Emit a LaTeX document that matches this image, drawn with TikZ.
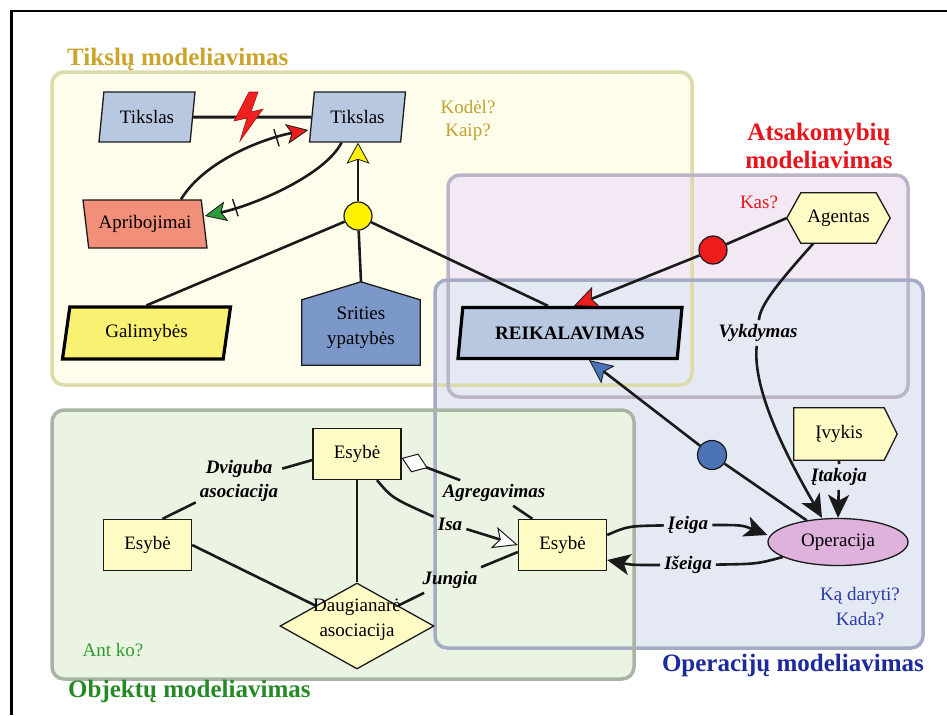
\documentclass[tikz,border=0pt]{standalone}
\usepackage{fontspec}
\setmainfont{Liberation Serif}
\usetikzlibrary{arrows.meta,shapes.geometric,decorations.markings,calc}

\definecolor{tikBg}{HTML}{FEFDEC}
\definecolor{tikLine}{HTML}{DCDBA9}
\definecolor{atsBg}{HTML}{F3E9F4}
\definecolor{atsLine}{HTML}{BCB5C7}
\definecolor{opBg}{HTML}{E5E9F4}
\definecolor{opLine}{HTML}{A4ABC4}
\definecolor{objBg}{HTML}{EBF4E3}
\definecolor{objLine}{HTML}{A9B4A4}
\definecolor{goalBlue}{HTML}{B9C8E1}
\definecolor{domBlue}{HTML}{7B98C9}
\definecolor{salmon}{HTML}{F18F78}
\definecolor{capYellow}{HTML}{F8F172}
\definecolor{paleYellow}{HTML}{FFFBC4}
\definecolor{opPink}{HTML}{DEB2DC}
\definecolor{dotYellow}{HTML}{FFF200}
\definecolor{dotRed}{HTML}{EE1C1C}
\definecolor{dotBlue}{HTML}{4B73B6}
\definecolor{tikTitle}{HTML}{C9A52B}
\definecolor{tikAsk}{HTML}{C2A233}
\definecolor{atsTitle}{HTML}{E8141B}
\definecolor{opTitle}{HTML}{1C2A9B}
\definecolor{opAsk}{HTML}{2B3BA5}
\definecolor{objTitle}{HTML}{258A25}
\definecolor{objAsk}{HTML}{2E9B2E}
\definecolor{edge}{HTML}{1A1A1A}
\definecolor{arrowGreen}{HTML}{2E9A3A}
\definecolor{boltRed}{HTML}{EE2020}

\pgfdeclarelayer{regions}
\pgfdeclarelayer{lines}
\pgfdeclarelayer{shapes}
\pgfsetlayers{regions,lines,shapes,main}

\newcommand{\txtfont}{\fontsize{19}{25}\selectfont}

\tikzset{
  headBlack/.tip={Stealth[length=23pt,width=21pt,inset=6pt]},
  headRed/.tip={Stealth[length=24pt,width=22pt,inset=5pt,fill=dotRed,line width=0.8pt]},
  headBlue/.tip={Stealth[length=24pt,width=22pt,inset=5pt,fill=dotBlue,line width=0.8pt]},
  headYellow/.tip={Stealth[length=21pt,width=23pt,inset=4pt,fill=dotYellow,line width=0.8pt]},
  headGoalRed/.tip={Stealth[length=22pt,width=20pt,inset=5pt,fill=dotRed,line width=0.8pt]},
  headGreen/.tip={Stealth[length=22pt,width=20pt,inset=5pt,fill=arrowGreen,line width=0.8pt]},
  headOpen/.tip={Stealth[length=25pt,width=22pt,inset=6pt,fill=white,line width=1pt]},
  headDiamond/.tip={Diamond[length=28pt,width=20pt,fill=white,line width=1pt]},
  conn/.style={line width=2.6pt, draw=edge},
  tick/.style={postaction={decorate,decoration={markings,
      mark=at position #1 with {\draw[-, line width=1.4pt, draw=edge] (0pt,-9pt) -- (0pt,9pt);}}}},
  nodebox/.style={draw=edge, line width=1.3pt, font=\txtfont, align=center, inner sep=0pt},
  plain/.style={font=\txtfont, align=center, inner sep=0pt},
  goal/.style={nodebox, trapezium, trapezium left angle=70, trapezium right angle=110,
      trapezium stretches body, fill=goalBlue, minimum width=96pt, minimum height=50pt},
  entity/.style={nodebox, rectangle, fill=paleYellow, minimum width=88pt, minimum height=51pt},
  dot/.style={circle, draw=edge, line width=1.2pt, minimum size=28pt, inner sep=0pt},
  lbl/.style={font=\fontsize{19}{24}\selectfont\bfseries\itshape, inner sep=4pt, align=center},
  ask/.style={font=\fontsize{19}{23}\selectfont, inner sep=0pt, anchor=base},
  title/.style={font=\fontsize{25}{28}\selectfont\bfseries, align=center, inner sep=0pt},
  region/.style={rounded corners=12pt, line width=3.5pt}
}

\begin{document}
\begin{tikzpicture}[x=1pt, y=-1pt]
\useasboundingbox (0,0) rectangle (947,715);

% page, frame and modelling areas
\begin{pgfonlayer}{regions}
  \fill[white] (0,0) rectangle (947,715);
  \draw[line width=2.5pt] (11.5,715) -- (11.5,11) -- (947,11);
  \fill[tikBg, region] (52,72) rectangle (692,385);
  \fill[atsBg, region] (448,175) rectangle (908,397);
  \fill[opBg, region] (435,280) rectangle (923,648);
  \fill[objBg, region] (52,410) rectangle (634,679);
  \draw[tikLine, region] (52,72) rectangle (692,385);
  \draw[atsLine, region] (448,175) rectangle (908,397);
  \draw[opLine, region] (435,280) rectangle (923,648);
  \draw[objLine, region] (52,410) rectangle (634,679);
\end{pgfonlayer}

% titles and questions
\node[title, text=tikTitle, anchor=base west] (tikT) at (67,65) {Tikslų modeliavimas};
\node[title, text=atsTitle] (atsT) at (819,145.5) {Atsakomybių\\modeliavimas};
\node[title, text=opTitle, anchor=base east] (opT) at (924,671) {Operacijų modeliavimas};
\node[title, text=objTitle, anchor=base west] (objT) at (68,697) {Objektų modeliavimas};

\node[ask, text=tikAsk] (askWhy) at (468,113) {Kodėl?};
\node[ask, text=tikAsk] (askHow) at (468,136) {Kaip?};
\node[ask, text=atsTitle] (askWho) at (759,208) {Kas?};
\node[ask, text=objAsk] (askOn) at (113,656) {Ant ko?};
\node[ask, text=opAsk] (askWhat) at (860,600) {Ką daryti?};
\node[ask, text=opAsk] (askWhen) at (860,625) {Kada?};

% goal model
\node[goal] (tiks1) at (147,117) {Tikslas};
\node[goal] (tiks2) at (357.5,117) {Tikslas};
\node[goal, trapezium left angle=108.4, trapezium right angle=71.6, fill=salmon,
      minimum width=124pt, minimum height=48pt] (aprib) at (145,224) {Apribojimai};
\node[goal, trapezium left angle=67.1, trapezium right angle=112.9, fill=capYellow,
      draw=black, line width=3.2pt, minimum width=168pt, minimum height=52pt] (galim) at (146.5,333) {Galimybės};
\node[plain, minimum width=118pt, minimum height=83pt,
      label={[name=sritTxt, font=\txtfont, align=center, yshift=-4pt]center:{Srities\\ypatybės}}] (srit) at (361,323.5) {};
\node[goal, trapezium left angle=69.6, trapezium right angle=110.4, draw=black, line width=3.2pt,
      minimum width=224pt, minimum height=51pt, font=\fontsize{19}{23}\selectfont\bfseries] (reik) at (570,333) {REIKALAVIMAS};
\node[dot, fill=dotYellow] (circY) at (358,216) {};

% responsibility model
\node[plain, minimum width=103pt, minimum height=50pt] (agent) at (838.5,218) {Agentas};
\node[dot, fill=dotRed] (circR) at (713,250) {};

% operation model
\node[plain, minimum width=90pt, minimum height=52pt] (ivy) at (839,434) {Įvykis};
\node[nodebox, ellipse, fill=opPink, minimum width=140pt, minimum height=47pt] (oper) at (838,542) {Operacija};
\node[dot, fill=dotBlue, minimum size=29pt] (circB) at (712,455) {};

% object model
\node[entity] (esyT) at (357,454) {Esybė};
\node[entity] (esyL) at (147.5,545) {Esybė};
\node[entity] (esyR) at (562.5,545) {Esybė};
\node[nodebox, diamond, fill=paleYellow, minimum width=154pt, minimum height=86pt,
      label={[name=daugTxt, font=\fontsize{19}{25}\selectfont, align=center, yshift=6pt]center:{Daugianarė\\asociacija}}] (daug) at (357,626) {};

% connector labels
\node[lbl] (vyk) at (758,333) {Vykdymas};
\node[lbl] (itak) at (839,477) {Įtakoja};
\node[lbl] (ieiga) at (688,525) {Įeiga};
\node[lbl] (iseiga) at (688,565) {Išeiga};
\node[lbl] (dvig) at (239,481) {Dviguba\\asociacija};
\node[lbl] (agr) at (494,493) {Agregavimas};
\node[lbl] (isa) at (450,524) {Isa};
\node[lbl] (jung) at (450,580) {Jungia};

% outlined shapes behind their texts
\begin{pgfonlayer}{shapes}
  \draw[fill=domBlue, draw=edge, line width=1.3pt]
    (srit.south west) -- (srit.south east) -- ([yshift=-18pt]srit.north east)
    -- (srit.north) -- ([yshift=-18pt]srit.north west) -- cycle;
  \draw[fill=paleYellow, draw=edge, line width=1.3pt]
    (agent.west) -- ([xshift=14pt]agent.north west) -- ([xshift=-14pt]agent.north east)
    -- (agent.east) -- ([xshift=-14pt]agent.south east) -- ([xshift=14pt]agent.south west) -- cycle;
  \draw[fill=paleYellow, draw=edge, line width=1.3pt]
    (ivy.north west) -- (ivy.north east) -- ([xshift=13pt]ivy.east)
    -- (ivy.south east) -- (ivy.south west) -- cycle;
\end{pgfonlayer}

% connectors
\begin{pgfonlayer}{lines}
  % goals
  \draw[conn, line width=3pt] (tiks1) -- (tiks2);
  \draw[conn, -{headGoalRed}, tick=0.78] ([xshift=36pt]aprib.north)
    .. controls (205,160) and (265,138) .. ([xshift=-3pt,yshift=-13pt]tiks2.west);
  \draw[conn, -{headGreen}, tick=0.8] ([xshift=-16pt]tiks2.south)
    .. controls (325,175) and (255,205) .. ([yshift=8pt]aprib.east);
  \draw[conn, -{headYellow}] (circY) -- (circY |- tiks2.south);
  \draw[conn] (circY) -- (galim.north);
  \draw[conn] (circY) -- (srit.north);
  \draw[conn] (circY) -- ([xshift=-22pt]reik.north);
  % responsibility
  \draw[conn] (agent.west) -- (circR);
  \draw[conn, -{headRed}] (circR) -- ([xshift=4pt]reik.north);
  \draw[conn, -{headBlack}] ([xshift=-25pt]agent.south)
    .. controls (778,283) and (760,305) .. (vyk)
    .. controls (752,392) and (790,462) .. ([xshift=-16pt]oper.north);
  % operations
  \draw[conn, -{headBlue}] (circB) -- ([xshift=19pt]reik.south);
  \draw[conn] (circB) -- (oper);
  \draw[conn, -{headBlack}] (ivy.south) -- (itak) -- (oper.north);
  \draw[conn, -{headBlack}] ([yshift=10pt]esyR.east) .. controls (628,526) .. (ieiga)
    .. controls (742,525) .. ([yshift=7pt]oper.west);
  \draw[conn, -{headBlack}] (oper) .. controls (757,564) .. (iseiga)
    .. controls (632,565) .. ([yshift=-15pt]esyR.east);
  % objects
  \draw[conn] ([yshift=-6pt]esyT.west) -- (dvig) -- ([xshift=15pt]esyL.north);
  \draw[conn, {headDiamond}-] ([yshift=-4pt]esyT.east) -- (agr);
  \draw[conn] (agr) -- ([xshift=-30pt]esyR.north);
  \draw[conn, -{headOpen}] ([xshift=20pt]esyT.south) .. controls (392,498) .. (isa) -- (esyR.west);
  \draw[conn] (daug) -- (jung) -- ([yshift=-7pt]esyR.west);
  \draw[conn] (esyT) -- (daug);
  \draw[conn] (esyL.east) -- (daug);
\end{pgfonlayer}

% conflict bolt between the two goals
\draw[fill=boltRed, draw=boltRed!70!black, line width=0.6pt]
  (249,92) -- (234,121) -- (247,118) -- (240,141) -- (263,109) -- (251,112) -- (258,92) -- cycle;

\end{tikzpicture}
\end{document}
